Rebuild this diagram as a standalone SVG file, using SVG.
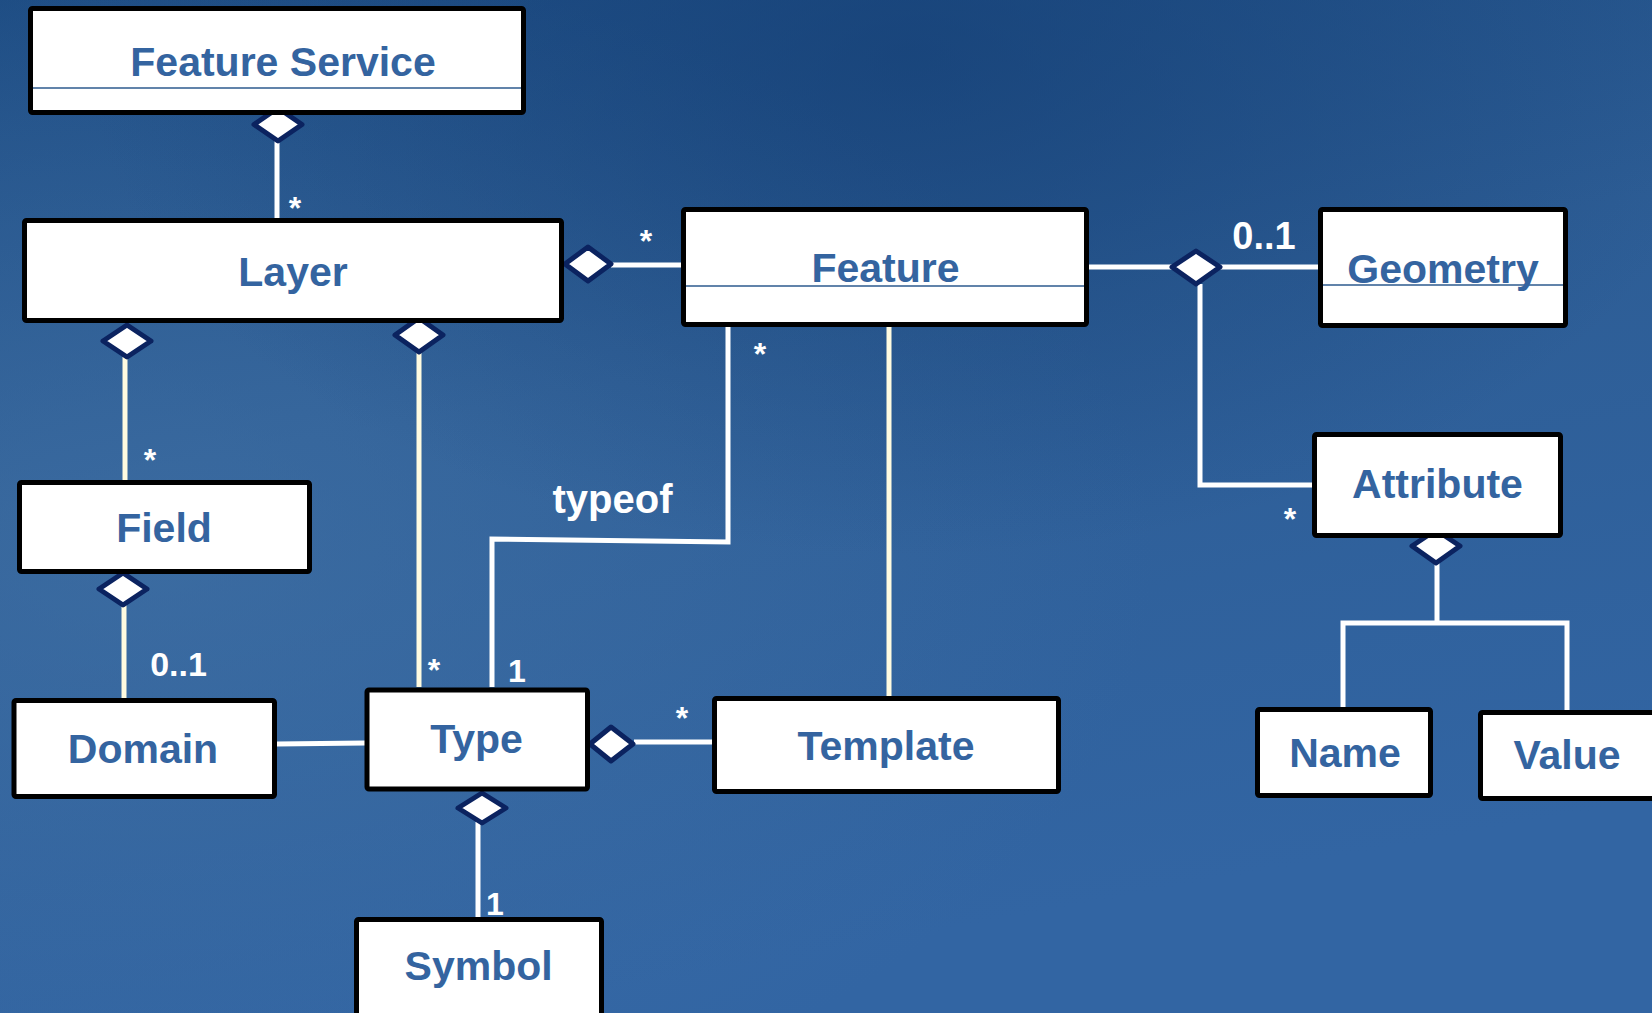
<svg xmlns="http://www.w3.org/2000/svg" width="1652" height="1013" viewBox="0 0 1652 1013">
<defs>
<linearGradient id="bg" x1="0" y1="0" x2="0.3" y2="1">
<stop offset="0" stop-color="#1d4c83"/>
<stop offset="0.45" stop-color="#2d5d95"/>
<stop offset="1" stop-color="#3265a3"/>
</linearGradient>
<radialGradient id="glow" cx="0.1" cy="0.55" r="0.6">
<stop offset="0" stop-color="#4575a8" stop-opacity="0.55"/>
<stop offset="1" stop-color="#4575a8" stop-opacity="0"/>
</radialGradient>
<radialGradient id="dark" cx="0.55" cy="0.05" r="0.5">
<stop offset="0" stop-color="#123c72" stop-opacity="0.6"/>
<stop offset="1" stop-color="#123c72" stop-opacity="0"/>
</radialGradient>
</defs>
<style>
.box{fill:#ffffff;stroke:#000000;stroke-width:5;}
.div{stroke:#2d5a8e;stroke-width:1.5;fill:none;}
.title{font-family:"Liberation Sans",Arial,sans-serif;font-weight:bold;font-size:41px;fill:#3464a0;text-anchor:middle;}
.lbl{font-family:"Liberation Sans",Arial,sans-serif;font-weight:bold;fill:#ffffff;text-anchor:middle;}
.w{stroke:#ffffff;stroke-width:5;fill:none;}
.c{stroke:#fffbe0;stroke-width:5;fill:none;}
.dia{fill:#ffffff;stroke:#0b2360;stroke-width:5;stroke-linejoin:round;}
</style>
<rect width="1652" height="1013" fill="url(#bg)"/>
<rect width="1652" height="1013" fill="url(#glow)"/>
<rect width="1652" height="1013" fill="url(#dark)"/>

<g id="connectors">
<line class="w" x1="277" y1="141" x2="277" y2="218"/>
<line class="w" x1="611" y1="265" x2="681" y2="265"/>
<line class="w" x1="1089" y1="267" x2="1172" y2="267"/>
<line class="w" x1="1220" y1="267" x2="1318" y2="267"/>
<polyline class="w" points="1200,284 1200,485 1313,485"/>
<line class="w" x1="1437" y1="563" x2="1437" y2="623"/>
<polyline class="w" points="1343,708 1343,623 1567,623 1567,711"/>
<line class="c" x1="125" y1="357" x2="125" y2="480"/>
<line class="c" x1="419" y1="352" x2="419" y2="687"/>
<line class="c" x1="124" y1="605" x2="124" y2="698"/>
<line class="w" x1="277" y1="744" x2="365" y2="743"/>
<polyline class="w" points="492,687 492,539 728,542 728,327"/>
<line class="c" x1="889" y1="327" x2="889" y2="696"/>
<line class="w" x1="634" y1="742" x2="712" y2="742"/>
<line class="w" x1="478" y1="822" x2="478" y2="917"/>
<polygon class="dia" points="254,124.5 278,108 302,124.5 278,141"/>
<polygon class="dia" points="565,264 588,247 611,264 588,281"/>
<polygon class="dia" points="1172,267 1196,251 1220,267 1196,284"/>
<polygon class="dia" points="1412,546 1436,530 1460,546 1436,563"/>
<polygon class="dia" points="103,341 127,325 151,341 127,357"/>
<polygon class="dia" points="395,335 419,318 443,335 419,352"/>
<polygon class="dia" points="99,589 123,573 147,589 123,605"/>
<polygon class="dia" points="590,744 611,727 633,744 611,761"/>
<polygon class="dia" points="458,808 482,793 506,808 482,823"/>
<text class="lbl" x="295" y="219" font-size="32">*</text>
<text class="lbl" x="646" y="252" font-size="32">*</text>
<text class="lbl" x="760" y="365" font-size="32">*</text>
<text class="lbl" x="150" y="471" font-size="32">*</text>
<text class="lbl" x="1290" y="530" font-size="32">*</text>
<text class="lbl" x="434" y="681" font-size="32">*</text>
<text class="lbl" x="682" y="729" font-size="32">*</text>
<text class="lbl" x="517" y="682" font-size="32">1</text>
<text class="lbl" x="495" y="915" font-size="32">1</text>
<text class="lbl" x="178.5" y="676" font-size="34">0..1</text>
<text class="lbl" x="1264" y="249" font-size="38">0..1</text>
<text class="lbl" x="612.5" y="513" font-size="40">typeof</text>
</g>

<g id="node-feature-service">
<rect class="box" x="30.5" y="8.5" width="493" height="104" rx="2"/>
<line class="div" x1="33" y1="88" x2="521" y2="88"/>
<text class="title" x="283" y="76">Feature Service</text>
</g>
<g id="node-layer">
<rect class="box" x="24.5" y="220.5" width="537" height="100" rx="2"/>
<text class="title" x="293" y="286">Layer</text>
</g>
<g id="node-feature">
<rect class="box" x="683.5" y="209.5" width="403" height="115" rx="2"/>
<line class="div" x1="686" y1="286" x2="1084" y2="286"/>
<text class="title" x="885.5" y="282">Feature</text>
</g>
<g id="node-geometry">
<rect class="box" x="1320.5" y="209.5" width="245" height="116" rx="2"/>
<line class="div" x1="1323" y1="285" x2="1563" y2="285"/>
<text class="title" x="1443" y="283">Geometry</text>
</g>
<g id="node-attribute">
<rect class="box" x="1314.5" y="434.5" width="246" height="101" rx="2"/>
<text class="title" x="1437.5" y="498">Attribute</text>
</g>
<g id="node-field">
<rect class="box" x="19.5" y="482.5" width="290" height="89" rx="2"/>
<text class="title" x="164" y="542">Field</text>
</g>
<g id="node-domain">
<rect class="box" x="14" y="700.5" width="260.5" height="96" rx="2"/>
<text class="title" x="143" y="763">Domain</text>
</g>
<g id="node-type">
<rect class="box" x="367" y="690" width="220.5" height="99" rx="2"/>
<text class="title" x="476.5" y="753">Type</text>
</g>
<g id="node-template">
<rect class="box" x="714.5" y="698.5" width="344" height="93" rx="2"/>
<text class="title" x="886" y="760">Template</text>
</g>
<g id="node-symbol">
<rect class="box" x="356.5" y="919.5" width="245" height="110" rx="2"/>
<text class="title" x="478.6" y="980">Symbol</text>
</g>
<g id="node-name">
<rect class="box" x="1257.5" y="709.5" width="173" height="86" rx="2"/>
<text class="title" x="1345" y="767">Name</text>
</g>
<g id="node-value">
<rect class="box" x="1480.5" y="712.5" width="200" height="86" rx="2"/>
<text class="title" x="1567" y="769">Value</text>
</g>
</svg>
